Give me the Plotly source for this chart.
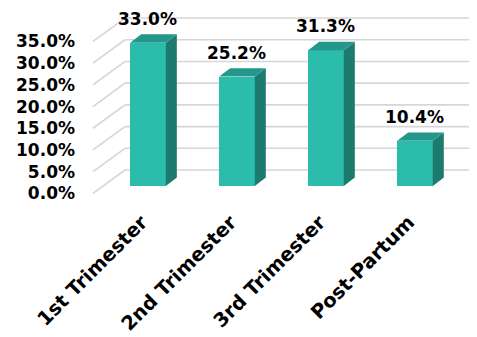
import plotly.graph_objects as go

# ---- data ----
categories = ["1st Trimester", "2nd Trimester", "3rd Trimester", "Post-Partum"]
values = [33.0, 25.2, 31.3, 10.4]
value_labels = ["33.0%", "25.2%", "31.3%", "10.4%"]
y_ticks = [0, 5, 10, 15, 20, 25, 30, 35]
y_tick_labels = ["0.0%", "5.0%", "10.0%", "15.0%", "20.0%", "25.0%", "30.0%", "35.0%"]

# ---- pseudo-3D geometry (data units) ----
BAR_W = 0.40
DX, DY = 0.124, 1.94          # bar depth offset
BACK_DY = 3.69                # back wall offset above bar front plane
FRONT_DY = 1.7                # front edge offset below bar front plane
X_BACK_LEFT = -0.258
X_FRONT_LEFT = -0.618
X_MIN, X_MAX = -0.809, 3.697
Y_MIN, Y_MAX = -3.226, 41.01
LABEL_SHIFT = -0.07           # category label anchor offset

FRONT = "#2BBCAC"
TOP = "#23978A"
SIDE = "#1C7A6E"
GRID = "#D6D6D6"
FONT = "DejaVu Sans"

fig = go.Figure()

# gridlines (back wall + left wall) as shapes below traces
for v in y_ticks:
    fig.add_shape(type="line", xref="x", yref="y", layer="below",
                  x0=X_BACK_LEFT, y0=v + BACK_DY, x1=X_MAX, y1=v + BACK_DY,
                  line=dict(color=GRID, width=1.6))
    fig.add_shape(type="line", xref="x", yref="y", layer="below",
                  x0=X_FRONT_LEFT, y0=v - FRONT_DY, x1=X_BACK_LEFT, y1=v + BACK_DY,
                  line=dict(color=GRID, width=1.6))

# front faces
fig.add_trace(go.Bar(x=list(range(len(values))), y=values, width=BAR_W,
                     marker=dict(color=FRONT, line=dict(width=0)),
                     hoverinfo="skip", showlegend=False))

# side and top faces
for i, v in enumerate(values):
    r = i + BAR_W / 2
    l = i - BAR_W / 2
    fig.add_trace(go.Scatter(
        x=[r, r + DX, r + DX, r, r], y=[0, DY, v + DY, v, 0],
        fill="toself", fillcolor=SIDE, mode="lines", line=dict(width=0),
        hoverinfo="skip", showlegend=False))
    fig.add_trace(go.Scatter(
        x=[l, r, r + DX, l + DX, l], y=[v, v, v + DY, v + DY, v],
        fill="toself", fillcolor=TOP, mode="lines", line=dict(width=0),
        hoverinfo="skip", showlegend=False))

# value labels
for i, (v, t) in enumerate(zip(values, value_labels)):
    fig.add_annotation(x=i, y=v, text=t, showarrow=False, yanchor="middle",
                       yshift=24, font=dict(family=FONT, size=17, color="black", weight="bold"))

fig.update_layout(
    width=469, height=329,
    margin=dict(l=68, r=0, t=0, b=137),
    paper_bgcolor="white", plot_bgcolor="white",
    showlegend=False, bargap=0,
    xaxis=dict(range=[X_MIN, X_MAX],
               tickvals=[i + LABEL_SHIFT for i in range(len(categories))],
               ticktext=categories, tickangle=-45, showgrid=False, zeroline=False,
               showline=False, ticks="", automargin=False, ticklabelstandoff=6,
               tickfont=dict(family=FONT, size=19.5, color="black", weight="bold")),
    yaxis=dict(range=[Y_MIN, Y_MAX], tickvals=[v - FRONT_DY for v in y_ticks],
               ticktext=y_tick_labels, showgrid=False, zeroline=False,
               showline=False, ticks="", automargin=False,
               tickfont=dict(family=FONT, size=17, color="black", weight="bold")),
)

fig.write_html("out.html")
